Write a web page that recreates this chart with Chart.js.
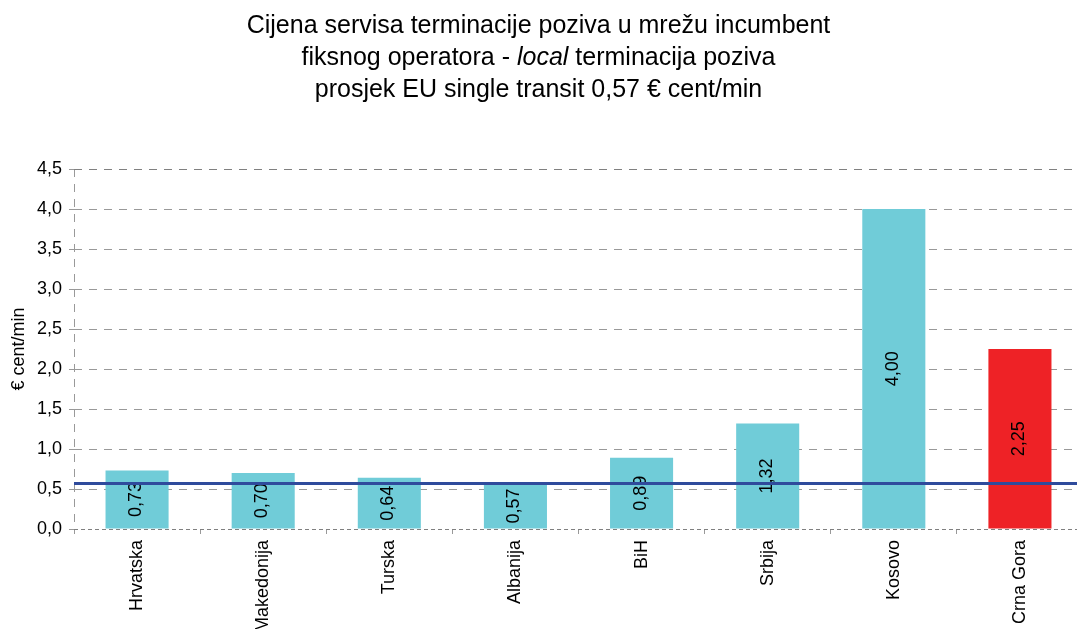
<!DOCTYPE html>
<html>
<head>
<meta charset="utf-8">
<script src="https://cdn.jsdelivr.net/npm/chart.js@4.4.0/dist/chart.umd.min.js"></script>
<style>
  html, body { margin: 0; padding: 0; overflow: hidden; background: #fff; }
  #wrap { position: relative; width: 1083px; height: 629px; }
  #title {
    position: absolute; left: 0; top: 8px; width: 1077px; text-align: center;
    font: 25px/32px "Liberation Sans", Arial, sans-serif; color: #000; z-index: 2;
  }
</style>
</head>
<body>
<div id="wrap">
  <div id="title">Cijena servisa terminacije poziva u mrežu incumbent<br>fiksnog operatora - <i>local</i> terminacija poziva<br>prosjek EU single transit 0,57 € cent/min</div>
  <canvas id="chart"></canvas>
</div>
<script>
const countries = ['Hrvatska', 'Makedonija', 'Turska', 'Albanija', 'BiH', 'Srbija', 'Kosovo', 'Crna Gora'];
const prices = [0.73, 0.70, 0.64, 0.57, 0.89, 1.32, 4.00, 2.25];
const barColors = ['#70ccd8', '#70ccd8', '#70ccd8', '#70ccd8', '#70ccd8', '#70ccd8', '#70ccd8', '#ee2226'];
const euAverage = 0.57;
const yMin = 0;
const yMax = 4.5;
const yStep = 0.5;

const fontFamily = '"Liberation Sans", Arial, sans-serif';
const gridGray = '#999';

// comma as decimal separator
function fmt(v, digits) {
    return v.toFixed(digits).replace('.', ',');
}

// value text inside each bar + EU average line on top
const barExtras = {
    id: 'barExtras',
    afterDatasetsDraw(chart) {
        const ctx = chart.ctx;
        const meta = chart.getDatasetMeta(0);
        ctx.save();
        ctx.font = '18px ' + fontFamily;
        ctx.fillStyle = '#000';
        ctx.textAlign = 'center';
        ctx.textBaseline = 'middle';
        meta.data.forEach((bar, i) => {
            const mid = (bar.y + bar.base) / 2;
            ctx.save();
            ctx.translate(bar.x - 1, mid);
            ctx.rotate(-Math.PI / 2);
            ctx.fillText(fmt(prices[i], 2), 0, 0);
            ctx.restore();
        });

        const yPix = chart.scales.y.getPixelForValue(euAverage);
        ctx.strokeStyle = '#2f4b9c';
        ctx.lineWidth = 3;
        ctx.beginPath();
        ctx.moveTo(chart.chartArea.left, yPix);
        ctx.lineTo(chart.chartArea.right, yPix);
        ctx.stroke();
        ctx.restore();
    }
};

Chart.defaults.font.family = fontFamily;

new Chart(document.getElementById('chart'), {
    type: 'bar',
    data: {
        labels: countries,
        datasets: [{
            data: prices,
            backgroundColor: barColors,
            borderWidth: 0,
            barPercentage: 0.5,
            categoryPercentage: 1.0
        }]
    },
    options: {
        responsive: true,
        maintainAspectRatio: false,
        animation: false,
        layout: { padding: { top: 169, left: 0, right: 0, bottom: 0 } },
        plugins: {
            legend: { display: false },
            tooltip: { enabled: false }
        },
        scales: {
            x: {
                afterFit: scale => { scale.height = 100; },
                grid: {
                    offset: true,
                    color: c => c.index === 0 ? gridGray : 'transparent',
                    tickColor: gridGray,
                    tickLength: 5
                },
                border: { display: false, dash: [8, 7] },
                ticks: {
                    color: '#000',
                    font: { size: 18 },
                    minRotation: 90,
                    maxRotation: 90,
                    autoSkip: false,
                    padding: 6
                }
            },
            y: {
                min: yMin,
                max: yMax,
                afterFit: scale => { scale.width = 74; },
                ticks: {
                    stepSize: yStep,
                    color: '#000',
                    font: { size: 18 },
                    padding: 7,
                    callback: v => fmt(v, 1)
                },
                grid: {
                    color: c => (c.tick && (c.tick.value === yMin || c.tick.value === yMax)) ? '#808080' : gridGray,
                    tickColor: gridGray,
                    tickLength: 5
                },
                border: {
                    display: false,
                    dash: c => (c.tick && c.tick.value === yMin) ? [4, 3] : [8, 7]
                },
                title: {
                    display: true,
                    text: '€ cent/min',
                    color: '#000',
                    font: { size: 18 },
                    padding: { top: 8, bottom: 0 }
                }
            }
        }
    },
    plugins: [barExtras]
});
</script>
</body>
</html>
